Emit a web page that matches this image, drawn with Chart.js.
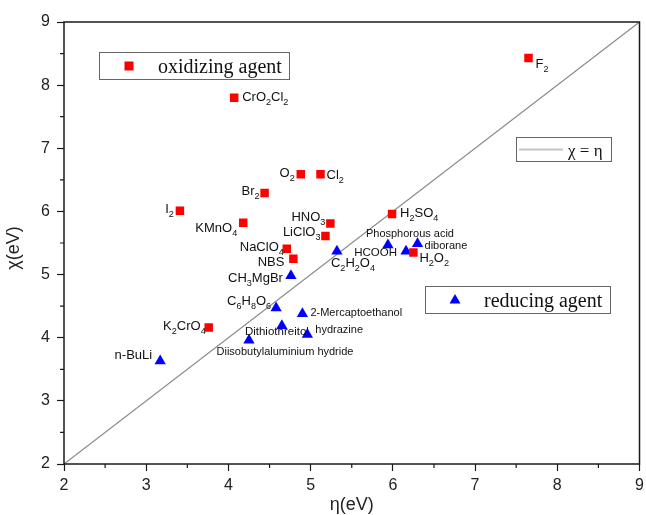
<!DOCTYPE html>
<html lang="en">
<head>
  <meta charset="UTF-8" />
  <title>Electronegativity vs hardness</title>
  <script src="https://cdn.jsdelivr.net/npm/chart.js"></script>
  <style>
    body { margin: 0; background: #fff; }
    .wrap { width: 646px; height: 515px; }
  </style>
</head>
<body>
  <div class="wrap"><canvas id="chart" width="646" height="515"></canvas></div>

  <script>
    // Oxidizing agents: hardness eta (x) and electronegativity chi (y), in eV
    const oxidNames = ['F_2', 'CrO_2Cl_2', 'O_2', 'Cl_2', 'Br_2', 'I_2', 'KMnO_4', 'HNO_3',
                       'LiClO_3', 'NaClO_4', 'NBS', 'H_2SO_4', 'H_2O_2', 'K_2CrO_4'];
    const oxidEta = [7.65, 4.07, 4.88, 5.12, 4.44, 3.41, 4.18, 5.24, 5.18, 4.71, 4.79, 5.99, 6.25, 3.76];
    const oxidChi = [8.43, 7.80, 6.59, 6.59, 6.29, 6.01, 5.82, 5.81, 5.61, 5.41, 5.25, 5.96, 5.35, 4.16];

    // Reducing agents
    const redNames = ['CH_3MgBr', 'C_2H_2O_4', 'Phosphorous acid', 'HCOOH', 'diborane', 'C_6H_8O_6',
                      '2-Mercaptoethanol', 'Dithiothreitol', 'hydrazine', 'Diisobutylaluminium hydride', 'n-BuLi'];
    const redEta = [4.76, 5.32, 5.94, 6.16, 6.30, 4.58, 4.90, 4.65, 4.96, 4.25, 3.17];
    const redChi = [4.98, 5.37, 5.47, 5.37, 5.49, 4.47, 4.38, 4.19, 4.05, 3.96, 3.63];

    // chi = eta reference line
    const diagEta = [2, 9];

    const xTicks = [2, 3, 4, 5, 6, 7, 8, 9];
    const yTicks = [2, 3, 4, 5, 6, 7, 8, 9];

    // label placement: [dx, dy, align, font size] relative to the marker
    const labelPlace = {
      'F_2': [7, 5, 'left', 13],
      'CrO_2Cl_2': [8, -1, 'left', 13],
      'O_2': [-6, -2, 'right', 13],
      'Cl_2': [6, 0, 'left', 13],
      'Br_2': [-5, -3, 'right', 13],
      'I_2': [-6, -2, 'right', 13],
      'KMnO_4': [-6, 5, 'right', 13],
      'HNO_3': [-5, -7, 'right', 13],
      'LiClO_3': [-5, -5, 'right', 13],
      'NaClO_4': [-3, -2, 'right', 13],
      'NBS': [-9, 3, 'right', 13],
      'H_2SO_4': [8, -2, 'left', 13],
      'H_2O_2': [6, 5, 'left', 13],
      'K_2CrO_4': [-3, -2, 'right', 13],
      'CH_3MgBr': [-8, 2, 'right', 13],
      'C_2H_2O_4': [-6, 11, 'left', 13],
      'Phosphorous acid': [-22, -12, 'left', 11],
      'HCOOH': [-9, 1, 'right', 11.5],
      'diborane': [7, 1, 'left', 11],
      'C_6H_8O_6': [-5, -8, 'right', 13],
      '2-Mercaptoethanol': [8, -2, 'left', 11],
      'Dithiothreitol': [-5, 5, 'center', 11.5],
      'hydrazine': [8, -5, 'left', 11],
      'Diisobutylaluminium hydride': [36, 11, 'center', 11],
      'n-BuLi': [-8, -7, 'right', 13]
    };

    const SANS = '"Liberation Sans", Arial, sans-serif';
    const SERIF = '"Liberation Serif", "Times New Roman", serif';

    // text with "_d" subscripts, vertically centred on y
    function drawRich(ctx, str, x, y, size, align) {
      const parts = [];
      for (let i = 0; i < str.length; i++) {
        if (str[i] === '_') { parts.push({ t: str[i + 1], sub: true }); i++; }
        else parts.push({ t: str[i], sub: false });
      }
      let w = 0;
      parts.forEach(p => {
        ctx.font = (p.sub ? size * 0.7 : size) + 'px ' + SANS;
        p.w = ctx.measureText(p.t).width;
        w += p.w;
      });
      let cx = align === 'left' ? x : align === 'right' ? x - w : x - w / 2;
      const base = y + size * 0.358;
      ctx.textAlign = 'left';
      ctx.textBaseline = 'alphabetic';
      parts.forEach(p => {
        ctx.font = (p.sub ? size * 0.7 : size) + 'px ' + SANS;
        ctx.fillText(p.t, cx, p.sub ? base + size * 0.3 : base);
        cx += p.w;
      });
    }

    const decor = {
      id: 'decor',
      afterDatasetsDraw(chart) {
        const ctx = chart.ctx;
        ctx.save();
        ctx.fillStyle = '#111';
        [[oxidNames, 0], [redNames, 1]].forEach(([names, di]) => {
          const meta = chart.getDatasetMeta(di);
          names.forEach((n, i) => {
            const pt = meta.data[i];
            const [dx, dy, align, size] = labelPlace[n];
            drawRich(ctx, n, pt.x + dx, pt.y + dy, size, align);
          });
        });
        ctx.restore();
      },
      afterDraw(chart) {
        const ctx = chart.ctx;
        const a = chart.chartArea;
        const xs = chart.scales.x, ys = chart.scales.y;
        ctx.save();

        // frame
        ctx.strokeStyle = '#1a1a1a';
        ctx.lineWidth = 1.5;
        ctx.strokeRect(a.left, a.top, a.right - a.left, a.bottom - a.top);

        // minor ticks
        ctx.lineWidth = 1.2;
        ctx.beginPath();
        for (let v = 2.5; v < 9; v += 1) {
          const px = xs.getPixelForValue(v);
          ctx.moveTo(px, a.bottom); ctx.lineTo(px, a.bottom + 4);
          const py = ys.getPixelForValue(v);
          ctx.moveTo(a.left, py); ctx.lineTo(a.left - 4, py);
        }
        ctx.stroke();

        // axis titles
        ctx.fillStyle = '#222';
        ctx.font = '18px ' + SANS;
        ctx.textAlign = 'center';
        ctx.textBaseline = 'middle';
        ctx.fillText('\u03b7(eV)', (a.left + a.right) / 2, 505);
        ctx.save();
        ctx.translate(14, 248);
        ctx.rotate(-Math.PI / 2);
        ctx.fillText('\u03c7(eV)', 0, 0);
        ctx.restore();

        // legend boxes
        ctx.strokeStyle = '#666';
        ctx.lineWidth = 1;
        ctx.fillStyle = '#fff';
        [[99.5, 52.5, 190, 27], [425.5, 286.5, 185, 27], [516.5, 137.5, 95, 24]].forEach(b => {
          ctx.fillRect(b[0], b[1], b[2], b[3]);
          ctx.strokeRect(b[0], b[1], b[2], b[3]);
        });

        ctx.fillStyle = '#ff0000';
        ctx.fillRect(124.5, 61.5, 9, 9);
        ctx.fillStyle = '#0000ff';
        ctx.beginPath();
        ctx.moveTo(455, 294); ctx.lineTo(460.5, 303.5); ctx.lineTo(449.5, 303.5);
        ctx.closePath(); ctx.fill();

        ctx.strokeStyle = '#c4c4c4';
        ctx.lineWidth = 2;
        ctx.beginPath(); ctx.moveTo(519, 149.5); ctx.lineTo(563, 149.5); ctx.stroke();

        ctx.fillStyle = '#111';
        ctx.textAlign = 'left';
        ctx.textBaseline = 'alphabetic';
        ctx.font = '20px ' + SERIF;
        ctx.fillText('oxidizing agent', 158, 73);
        ctx.fillText('reducing agent', 484, 306.5);
        ctx.font = '17px ' + SERIF;
        ctx.fillText('\u03c7 = \u03b7', 568, 156);

        ctx.restore();
      }
    };

    new Chart(document.getElementById('chart').getContext('2d'), {
      type: 'scatter',
      data: {
        datasets: [
          {
            label: 'oxidizing agent',
            data: oxidEta.map((x, i) => ({ x, y: oxidChi[i] })),
            pointStyle: 'rect',
            pointRadius: 6,
            backgroundColor: '#ff0000',
            borderWidth: 0
          },
          {
            label: 'reducing agent',
            data: redEta.map((x, i) => ({ x, y: redChi[i] })),
            pointStyle: 'triangle',
            pointRadius: 6.5,
            backgroundColor: '#0000ff',
            borderWidth: 0
          },
          {
            type: 'line',
            label: '\u03c7 = \u03b7',
            data: diagEta.map(v => ({ x: v, y: v })),
            borderColor: '#8a8a8a',
            borderWidth: 1.2,
            pointRadius: 0,
            fill: false
          }
        ]
      },
      options: {
        responsive: false,
        animation: false,
        devicePixelRatio: 1,
        layout: { padding: { top: 22, right: 5, left: 0, bottom: 0 } },
        plugins: { legend: { display: false }, tooltip: { enabled: false } },
        scales: {
          x: {
            type: 'linear', min: 2, max: 9,
            afterBuildTicks: s => { s.ticks = xTicks.map(v => ({ value: v })); },
            afterFit: s => { s.height = 51; s.paddingLeft = 0; s.paddingRight = 0; },
            border: { display: false },
            grid: { drawOnChartArea: false, drawTicks: true, tickLength: 7, tickColor: '#1a1a1a', tickWidth: 1.2 },
            ticks: { color: '#222', font: { family: SANS, size: 16 }, padding: 5, maxRotation: 0, autoSkip: false }
          },
          y: {
            type: 'linear', min: 2, max: 9,
            afterBuildTicks: s => { s.ticks = yTicks.map(v => ({ value: v })); },
            afterFit: s => { s.width = 64; s.paddingTop = 0; s.paddingBottom = 0; },
            border: { display: false },
            grid: { drawOnChartArea: false, drawTicks: true, tickLength: 7, tickColor: '#1a1a1a', tickWidth: 1.2 },
            ticks: { color: '#222', font: { family: SANS, size: 16 }, padding: 7, autoSkip: false }
          }
        }
      },
      plugins: [decor]
    });
  </script>
</body>
</html>
